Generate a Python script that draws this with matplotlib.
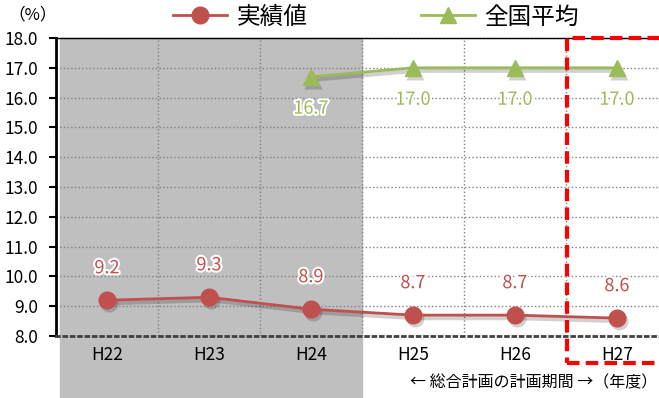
import matplotlib
matplotlib.use("Agg")
import matplotlib.pyplot as plt
import matplotlib.patheffects as pe
import matplotlib.transforms as mtransforms
from matplotlib.patches import Rectangle

plt.rcParams['font.family'] = ['Noto Sans CJK JP', 'DejaVu Sans']

# data
years = ["H22", "H23", "H24", "H25", "H26", "H27"]
actual = [9.2, 9.3, 8.9, 8.7, 8.7, 8.6]
nat_years = ["H24", "H25", "H26", "H27"]
national = [16.7, 17.0, 17.0, 17.0]

red = "#C0504D"
green = "#9BBB59"

fig = plt.figure(figsize=(6.59, 3.98), dpi=100)
W, H = 659, 398
# axes spills past the right edge on purpose
ax = fig.add_axes([56 / W, (H - 336) / H, 612 / W, 298 / H])

x = list(range(len(years)))
xn = [years.index(y) for y in nat_years]

# shaded past period (reaches down under the axis labels)
fig.patches.append(Rectangle((60 / W, 0), 302 / W, (H - 38) / H,
                             transform=fig.transFigure, color="#BFBFBF",
                             zorder=-1))
ax.set_facecolor("none")

# soft drop shadows under the lines
shift = mtransforms.offset_copy(ax.transData, fig=fig, x=2, y=-3, units="dots")
for xs, ys, m in [(x, actual, "o"), (xn, national, "^")]:
    ax.plot(xs, ys, color="black", alpha=0.18, lw=3, marker=m, ms=13,
            mec="none", transform=shift, zorder=3)

l1, = ax.plot(x, actual, color=red, lw=2, marker="o", ms=12,
              label="実績値", zorder=4)
l2, = ax.plot(xn, national, color=green, lw=2, marker="^", ms=12,
              label="全国平均", zorder=4)

outline = [pe.withStroke(linewidth=3, foreground="white")]
for xi, v in zip(x, actual):
    ax.annotate(f"{v:.1f}", (xi, v), xytext=(0, 23), textcoords="offset points",
                ha="center", va="center", fontsize=13, color=red,
                path_effects=outline, zorder=5)
for xi, v in zip(xn, national):
    ax.annotate(f"{v:.1f}", (xi, v), xytext=(0, -23), textcoords="offset points",
                ha="center", va="center", fontsize=13, color=green,
                path_effects=outline, zorder=5)

ax.set_xlim(-0.5, 5.5)
ax.set_ylim(8.0, 18.0)
ax.set_yticks([8 + i for i in range(11)])
ax.set_yticklabels([f"{8 + i:.1f}" for i in range(11)], fontsize=12.5)
ax.set_xticks(x)
ax.set_xticklabels(years, fontsize=12.5)
ax.tick_params(axis="x", length=0, pad=7)
ax.tick_params(axis="y", length=5, width=1.5, pad=8)

ax.set_xticks([i + 0.5 for i in range(5)], minor=True)
ax.grid(True, axis="y", which="major", ls=":", color="#808080", lw=1)
ax.grid(True, axis="x", which="minor", ls=":", color="#808080", lw=1)
ax.tick_params(axis="x", which="minor", length=0)

ax.spines["left"].set_linewidth(2)
ax.spines["left"].set_color("black")
ax.spines["right"].set_visible(False)
ax.spines["top"].set_color("black")
ax.spines["top"].set_linewidth(1)
ax.spines["bottom"].set_color("#404040")
ax.spines["bottom"].set_linestyle(":")
ax.spines["bottom"].set_linewidth(2)

# plan-year frame
fig.patches.append(Rectangle((567 / W, (H - 363) / H), 100 / W, 325 / H,
                             transform=fig.transFigure, fill=False,
                             edgecolor="#FF0000", lw=3, ls=(0, (3, 1.5)),
                             zorder=6))

fig.legend(handles=[l1, l2], ncol=2, loc="center", frameon=False,
           bbox_to_anchor=(376 / W, (H - 17) / H), fontsize=17,
           handlelength=2.3, columnspacing=4.8, handletextpad=0.4)

fig.text(8 / W, (H - 15) / H, "（%）", fontsize=12, va="center", ha="left")
fig.text(657 / W, (H - 383) / H, "← 総合計画の計画期間 →（年度）",
         fontsize=11.5, va="center", ha="right")

fig.savefig("out.png", dpi=100)
